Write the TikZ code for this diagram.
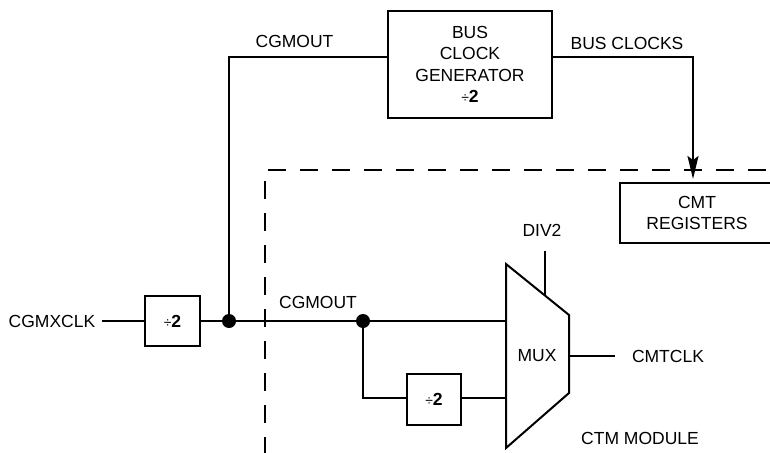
\documentclass[tikz,border=0pt]{standalone}
\usepackage{fontspec}
\setmainfont{Liberation Sans}
\usetikzlibrary{arrows.meta}
\begin{document}
\begin{tikzpicture}[x=1pt,y=-1pt,
  every node/.style={font=\fontsize{17.5}{21.5}\selectfont, inner sep=0pt},
  wire/.style={line width=2pt},
  blk/.style={draw, line width=2pt, align=center},
  lbl/.style={anchor=center},
  dot/.style={circle, fill=black, minimum size=14pt, inner sep=0pt},
  bound/.style={line width=2pt, dash pattern=on 18pt off 14pt}]
\useasboundingbox (0,0) rectangle (770,452);
% boxes
\node[blk, minimum width=164pt, minimum height=107pt] (bcg) at (470,64.5) {BUS\\CLOCK\\GENERATOR\\{\fontsize{14}{14}\selectfont÷}\textbf{2}};
\node[blk, minimum width=154pt, minimum height=60pt] (cmt) at (697,213) {CMT\\REGISTERS};
\node[blk, minimum width=55pt, minimum height=50pt] (d1) at (172.5,321) {{\fontsize{14}{14}\selectfont÷}\textbf{2}};
\node[blk, minimum width=54pt, minimum height=51pt] (d2) at (434,399) {{\fontsize{14}{14}\selectfont÷}\textbf{2}};
% mux
\coordinate (m1) at (506,264);
\coordinate (m2) at (569,315);
\coordinate (m3) at (569,393);
\coordinate (m4) at (506,448);
\draw[wire, line join=miter] (m1) -- (m2) -- (m3) -- (m4) -- cycle;
\node (mux) at (537,356) {MUX};
% dots
\node[dot] (dot1) at (229,321) {};
\node[dot] (dot2) at (363,321) {};
% labels
\node[lbl] (cgmx) at (52,321) {CGMXCLK};
\node[lbl] (cgmout1) at (294.5,41) {CGMOUT};
\node[lbl] (cgmout2) at (318,302) {CGMOUT};
\node[lbl] (busclk) at (627,43) {BUS CLOCKS};
\node[lbl] (div2) at (542,230) {DIV2};
\node[lbl] (cmtclk) at (668,356) {CMTCLK};
\node[lbl] (ctm) at (640,438) {CTM MODULE};
% coordinates
\coordinate (c0) at (102,321);
\coordinate (ct) at (229,57);
\coordinate (cb) at (693,57);
\coordinate (arrtip) at (693,179);
\coordinate (cd) at (363,398);
\coordinate (in1) at (506,321);
\coordinate (in2) at (506,398);
\coordinate (dv) at (545,251);
\coordinate (dve) at (545,294.5);
\coordinate (o1) at (569,356);
\coordinate (o2) at (615,356);
\coordinate (dh1) at (265,170);
\coordinate (dh2) at (772,170);
\coordinate (dv2) at (265,455);
% module boundary
\draw[bound] (dv2) -- (dh1) -- (dh2);
% wires
\draw[wire] (c0) -- (d1.west);
\draw[wire] (d1.east) -- (dot1.center) -- (dot2.center) -- (in1);
\draw[wire] (dot1.center) -- (ct) -- (ct -| bcg.west);
\draw[wire, -{Stealth[length=23pt,width=11pt,inset=4pt]}] (cb -| bcg.east) -- (cb) -- (arrtip);
\draw[wire] (dot2.center) -- (cd) -- (d2.west |- cd);
\draw[wire] (d2.east |- in2) -- (in2);
\draw[wire] (dv) -- (dve);
\draw[wire] (o1) -- (o2);
\end{tikzpicture}
\end{document}
